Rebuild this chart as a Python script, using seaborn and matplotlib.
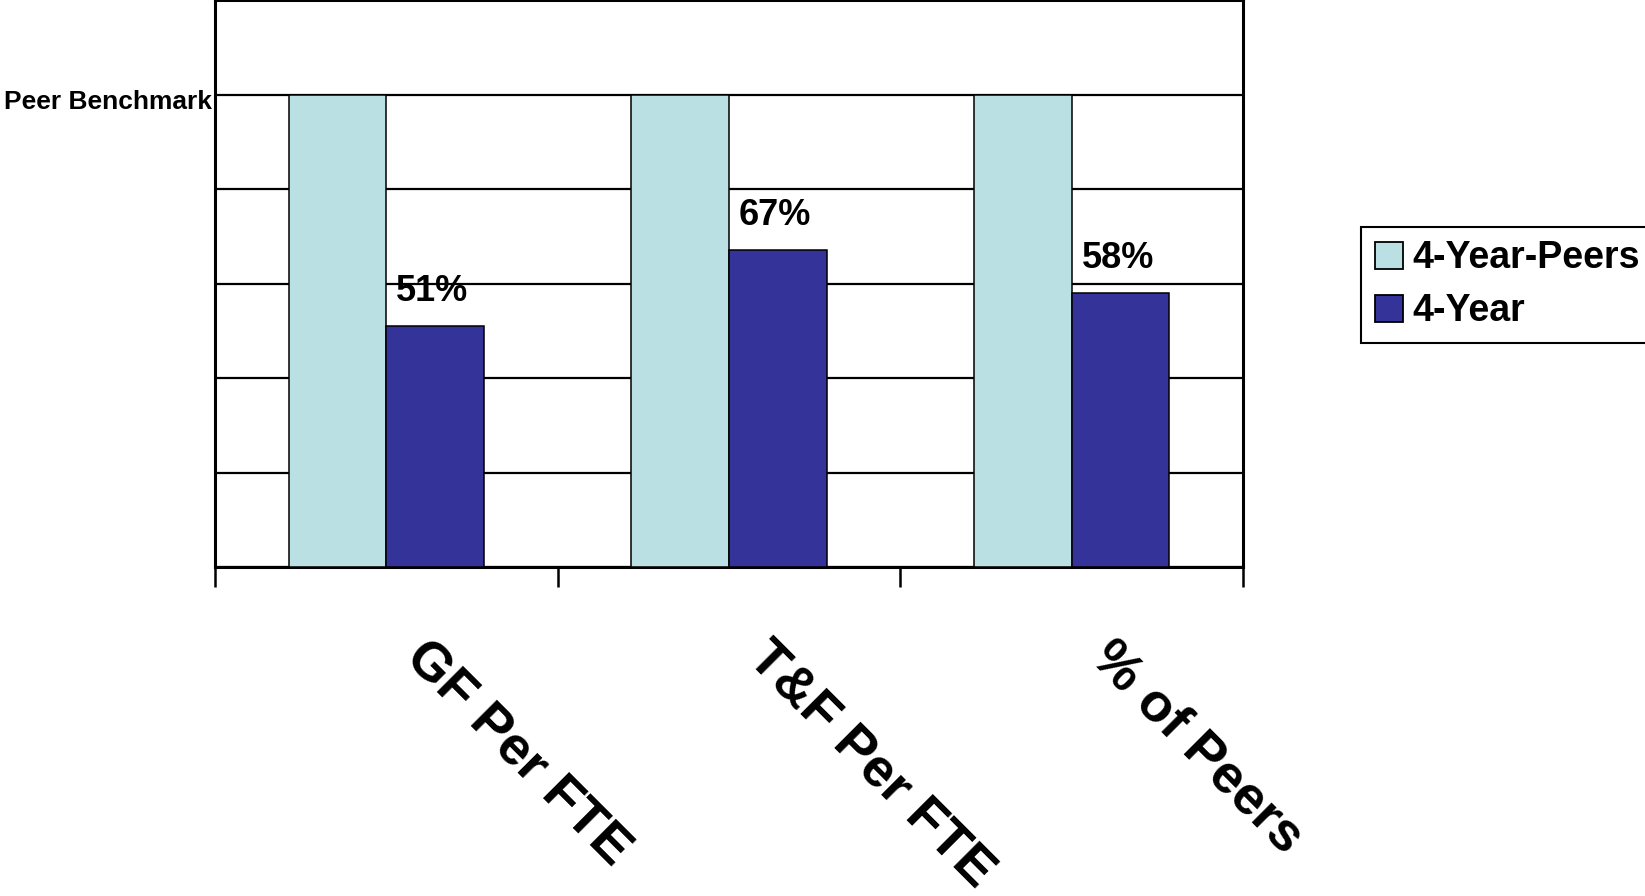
import matplotlib
matplotlib.use("Agg")
import matplotlib.pyplot as plt
import matplotlib.transforms as mtransforms
import seaborn as sns
import pandas as pd

categories = ["GF Per FTE", "T&F Per FTE", "% of Peers"]
series_names = ["4-Year-Peers", "4-Year"]
peers_values = [100, 100, 100]
four_year_values = [51, 67, 58]
value_labels = ["51%", "67%", "58%"]
y_ticks = [0, 20, 40, 60, 80, 100, 120]
y_tick_labels = ["", "", "", "", "", "Peer Benchmark", ""]
colors = ["#BAE0E3", "#343399"]

sns.set_style("white")
plt.rcParams["font.family"] = ["Liberation Sans", "DejaVu Sans"]
plt.rcParams["font.weight"] = "bold"
plt.rcParams["text.color"] = "black"
plt.rcParams["xtick.labelcolor"] = "black"
plt.rcParams["ytick.labelcolor"] = "black"

df = pd.DataFrame({
    "category": categories * 2,
    "series": [series_names[0]] * 3 + [series_names[1]] * 3,
    "value": peers_values + four_year_values,
})

fig = plt.figure(figsize=(16.45, 8.96), dpi=100)
ax = fig.add_axes([215 / 1645, 1 - 567 / 896, 1028 / 1645, 567 / 896])

sns.barplot(data=df, x="category", y="value", hue="series", hue_order=series_names,
            order=categories, palette=colors, width=0.57, edgecolor="black",
            linewidth=1.1, saturation=1, ax=ax, zorder=3)

ax.set_xlim(-0.5, 2.5)
ax.set_ylim(0, 120)
ax.set_xlabel("")
ax.set_ylabel("")

# y axis
ax.set_yticks(y_ticks)
ax.set_yticklabels(y_tick_labels, fontsize=19, fontweight="bold", color="black")
ax.tick_params(axis="y", length=0, pad=2)
ax.yaxis.grid(True, color="black", linewidth=1.6)
ax.set_axisbelow(True)
yoff = mtransforms.ScaledTranslation(0, -0.05, fig.dpi_scale_trans)
for lab in ax.get_yticklabels():
    lab.set_transform(lab.get_transform() + yoff)

# x axis: labels at centers, ticks at boundaries
ax.set_xticks(range(len(categories)))
ax.set_xticklabels(categories, fontsize=39, fontweight="bold", rotation=-45,
                   ha="left", va="top", rotation_mode="anchor", color="black")
ax.tick_params(axis="x", which="major", length=0, pad=47)
ax.set_xticks([-0.5, 0.5, 1.5, 2.5], minor=True)
ax.tick_params(axis="x", which="minor", length=14.5, width=1.8, color="black",
               direction="out", bottom=True)
offset = mtransforms.ScaledTranslation(0.45, 0, fig.dpi_scale_trans)
for lab in ax.get_xticklabels():
    lab.set_transform(lab.get_transform() + offset)

for sp in ax.spines.values():
    sp.set_visible(True)
    sp.set_color("black")
    sp.set_linewidth(2.2)

# value labels on the 4-Year bars
for bar, lab in zip(ax.containers[1], value_labels):
    ax.annotate(lab, (bar.get_x() + bar.get_width() / 2, bar.get_height()),
                xytext=(-2, 18), textcoords="offset points", ha="center",
                va="baseline", fontsize=26, fontweight="bold", color="black")

# legend
handles, labels = ax.get_legend_handles_labels()
if ax.legend_ is not None:
    ax.legend_.remove()
leg = fig.legend(handles, labels, loc="upper left",
                 bbox_to_anchor=(1361 / 1645, 1 - 227 / 896),
                 bbox_transform=fig.transFigure, borderaxespad=0,
                 prop={"size": 27, "weight": "bold"}, frameon=True,
                 fancybox=False, edgecolor="black", framealpha=1,
                 handlelength=0.75, handleheight=0.75, handletextpad=0.25,
                 borderpad=0.36, labelspacing=0.45)
leg.get_frame().set_linewidth(1.5)
for t in leg.get_texts():
    t.set_color("black")
for h in leg.legend_handles:
    h.set_edgecolor("black")
    h.set_linewidth(1.3)

fig.savefig("out.png", dpi=100)
